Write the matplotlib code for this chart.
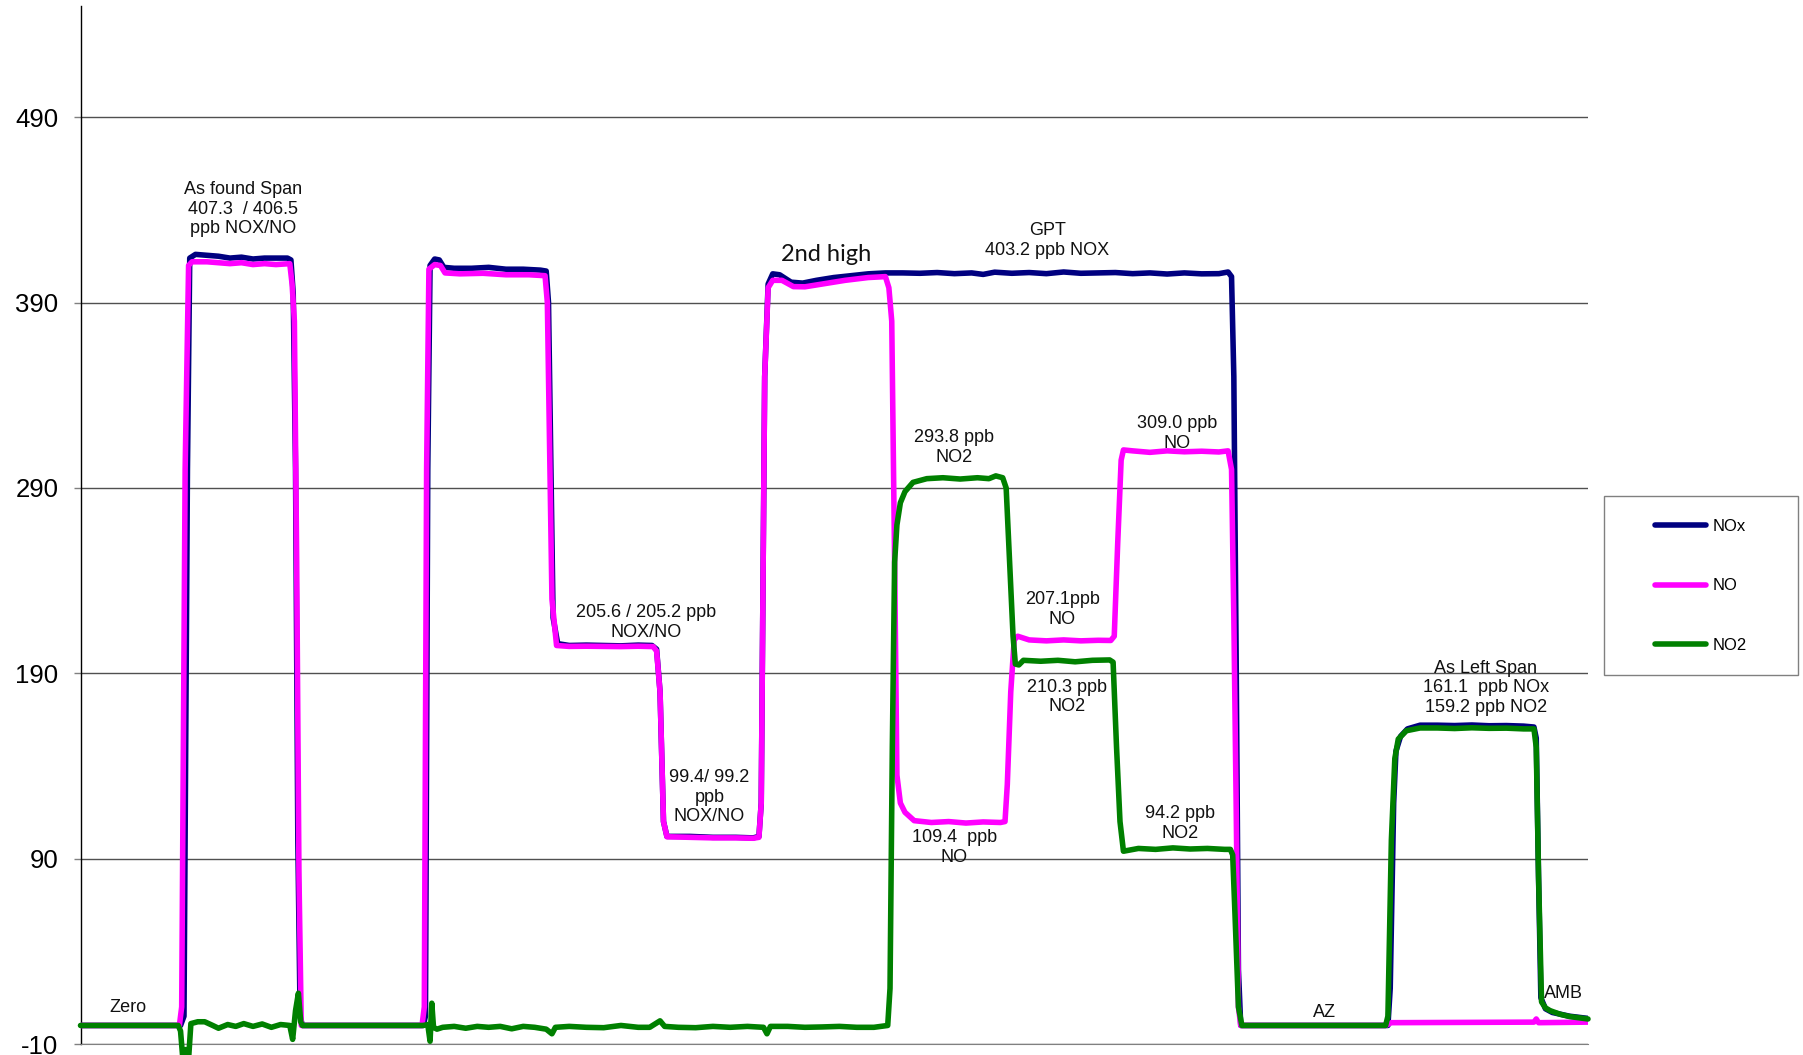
import matplotlib
matplotlib.use("Agg")
import matplotlib.pyplot as plt
from matplotlib.patches import Rectangle
from matplotlib.lines import Line2D

plt.rcParams['font.family'] = ['Liberation Sans', 'DejaVu Sans']

# ---- data (time axis in arbitrary sample units) ----
nox_t = [70,157,160,163,165,170,180,190,200,210,220,230,240,250,253,255,257,259,261,263,
         368,370,372,374,378,382,386,395,410,425,440,455,470,475,477,481,485,495,510,525,540,555,567,
         571,574,577,580,600,620,640,655,660,662,665,668,672,678,688,698,710,725,740,755,770,785,800,
         815,830,845,855,865,880,895,910,925,940,955,970,985,1000,1015,1030,1045,1060,1068,1071,1073,
         1075,1077,1079,1207,1209,1212,1214,1218,1224,1235,1250,1265,1280,1295,1310,1325,1334,1336,
         1338,1340,1344,1350,1365,1381]
nox_v = [0,0,5,300,414,416,415.5,415,414,414.5,413.5,414,414,414,413,395,300,100,5,0,
         0,5,300,410,413.5,413,409,408.5,408.5,409,408,408,407.5,407,390,220,206,205,205.2,205,204.8,205.2,205,
         203,180,110,102,102,101.5,101.5,101.2,102,120,350,400,405.5,405,401,400.5,402,403.5,404.5,405.5,406,406,405.8,
         406.2,405.6,406,405.2,406.4,405.8,406.2,405.6,406.5,405.8,406,406.2,405.6,406,405.4,406,405.5,405.6,406.5,404,350,
         200,30,0,0,20,120,148,156,160,162,162,161.8,162.1,161.7,161.8,161.5,161,155,
         80,15,9,7,5,3.8]

no_t = [70,156,158,161,164,167,180,190,200,210,220,230,240,252,254,256,258,260,262,
        367,369,371,373,378,383,387,400,420,440,460,474,476,480,484,495,510,525,540,555,568,
        571,574,577,580,600,620,640,655,660,662,665,668,672,680,690,700,715,735,755,770,
        773,775.5,778,780,783,787,795,810,825,840,855,870,874,876,879,882,885,895,910,925,940,955,966,
        969,972,975,977,985,1000,1015,1030,1045,1060,1068,1071,1073,1075,1077,1079,1205,1210,1334,1336,1338,1381]
no_v = [0,0,10,300,410,412,412,411.5,411,411.5,410.5,411,410.5,411,400,380,250,80,0,
        0,10,300,408,410.5,410,406,405.5,405.8,405,405,404.5,390,230,205,204.5,204.6,204.5,204.4,204.6,204.4,
        202,180,110,101.8,101.5,101.2,101.2,101,101.5,120,350,398,402,402,398.6,398.5,400,402,403.5,404,
        398,380,250,135,120,115,110.5,109.5,110,109.2,109.8,109.5,110,130,180,208,210,208,207.5,208,207.5,207.8,207.7,
        210,260,305,310.5,310,309.2,310,309.5,309.8,309.4,310,300,220,120,10,0,0,1.5,1.8,3.5,1.5,1.8]

no2_t = [70,155,157,159,161.5,164,166,172,178,185,190,198,205,212,220,228,236,244,252,254.5,257,259.5,261.5,263,
         368,372,374,375.5,377,380,385,395,405,415,425,435,445,455,465,475,480,483,495,510,525,540,555,565,574,578,
         590,605,620,635,650,664,667,670,685,700,715,730,745,760,772,774,776,778,780,783,787,794,806,820,835,850,
         860,866,872,875,878,881,883,886,890,905,920,935,950,965,968,971,974,977,990,1005,1020,1035,1050,1065,1070,
         1072,1074,1077,1080,1205,1207,1210,1213,1216,1223,1235,1250,1265,1280,1295,1310,1325,1334,1336,1338,1340.6,
         1344,1348,1357,1365,1381]
no2_v = [0,0,-3,-18,-13,-18,1,2,2,0,-1.5,0.5,-0.5,1,-0.5,0.8,-1,0.5,0,-7.5,8,17.4,2,0,
         0,0.5,-8.5,12,-1,-2,-1,-0.5,-1.5,-0.5,-1,-0.5,-1.8,-0.5,-1,-2,-4.5,-1,-0.5,-1,-1.2,0,-1,-1,2.5,-0.5,
         -1,-1.2,-0.5,-1,-0.5,-1,-4.5,-0.5,-0.5,-1,-0.8,-0.5,-1,-1,0,20,150,250,270,282,288,293,295,295.5,294.8,295.5,
         295,296.5,295.5,290,250,210,195,194.5,197,196.5,197,196.2,197,197.2,196,150,110,94,95.5,95,95.8,95.2,95.5,95,95,
         92,60,10,0,0,5,100,144,154.5,159,160.5,160.5,160.2,160.6,160.3,160.4,160,160,150,80,12.7,
         9.5,8,6,4.8,3.5]

yticks = [-10, 90, 190, 290, 390, 490]
series_names = ["NOx", "NO", "NO2"]
series_colors = ["#000080", "#FF00FF", "#008000"]

annotations = [
    ("Zero", 111, 9.5),
    ("As found Span\n407.3  / 406.5\nppb NOX/NO", 211, 440.4),
    ("GPT\n403.2 ppb NOX", 911, 423.6),
    ("205.6 / 205.2 ppb\nNOX/NO", 562, 217.5),
    ("99.4/ 99.2\nppb\nNOX/NO", 617, 123.2),
    ("293.8 ppb\nNO2", 830, 311.8),
    ("309.0 ppb\nNO", 1024, 319.3),
    ("207.1ppb\nNO", 924, 224.4),
    ("210.3 ppb\nNO2", 928, 177.3),
    ("94.2 ppb\nNO2", 1026, 109.0),
    ("109.4  ppb\nNO", 830, 96.0),
    ("AZ", 1152, 6.8),
    ("As Left Span\n161.1  ppb NOx\n159.2 ppb NO2", 1292, 182.2),
    ("AMB", 1360, 17.3),
]

# ---- figure ----
fig = plt.figure(figsize=(18.03, 10.55), dpi=100)
ax = fig.add_axes([80.5/1803, 11/1055, (1588-80.5)/1803, 1038/1055])
ax.set_xlim(70, 1381)
ax.set_ylim(-10, 550)

lw = 4.0
l1, = ax.plot(nox_t, nox_v, color=series_colors[0], lw=lw, solid_joinstyle='round', solid_capstyle='round', zorder=3)
l2, = ax.plot(no_t, no_v, color=series_colors[1], lw=lw, solid_joinstyle='round', solid_capstyle='round', zorder=4)
l3, = ax.plot(no2_t, no2_v, color=series_colors[2], lw=lw, solid_joinstyle='round', solid_capstyle='round',
              zorder=5, clip_on=False)

ax.set_yticks(yticks)
ax.set_yticklabels([str(v) for v in yticks])
ax.tick_params(axis='y', direction='out', length=5, width=1, color='#808080', labelsize=18.5, pad=11)
ax.set_xticks([])
ax.grid(axis='y', color='#505050', lw=1, zorder=1)
for s in ['top', 'right']:
    ax.spines[s].set_visible(False)
ax.spines['bottom'].set_color('#808080')
ax.spines['left'].set_color('black')
ax.spines['left'].set_linewidth(1)

for txt, x, y in annotations:
    ax.text(x, y, txt, ha='center', va='center', multialignment='center', fontsize=13, color='#111111', zorder=6)
ax.text(718, 416.2, "2nd high", ha='center', va='center', fontsize=17, family=['Lato', 'DejaVu Sans'], color='#111111')

# legend
fig.add_artist(Rectangle((1604/1803, (1055-675)/1055), 194/1803, 179.3/1055, transform=fig.transFigure,
                         fill=False, edgecolor='#808080', lw=1))
handles = [Line2D([], [], color=c, lw=lw, solid_capstyle='round') for c in series_colors]
fig.legend(handles, series_names, loc='center left', bbox_to_anchor=(1655/1803, (1055-586)/1055),
           frameon=False, fontsize=12, handlelength=3.06, handletextpad=0.4, labelspacing=2.68,
           borderpad=0, borderaxespad=0)

fig.savefig("out.png", dpi=100)
